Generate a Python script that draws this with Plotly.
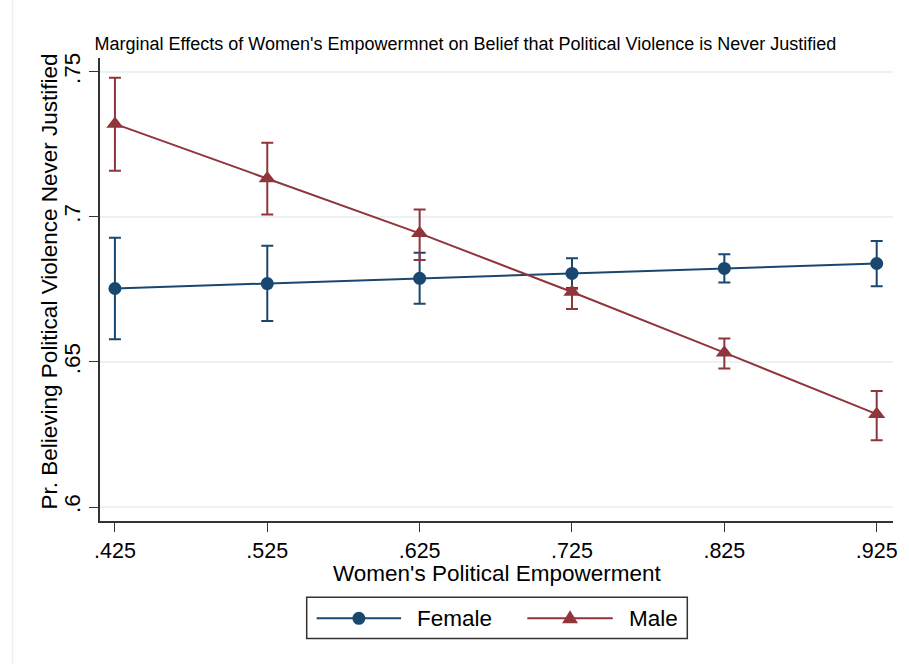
import plotly.graph_objects as go

# Women's political empowerment levels at which margins were evaluated
empowerment = [0.425, 0.525, 0.625, 0.725, 0.825, 0.925]
tick_labels = [".425", ".525", ".625", ".725", ".825", ".925"]

# Predicted probability (and 95% CI) that political violence is never justified
female_est = [0.6753, 0.6770, 0.6788, 0.6805, 0.6822, 0.6839]
female_lo = [0.6578, 0.6641, 0.6700, 0.6755, 0.6774, 0.6761]
female_hi = [0.6928, 0.6900, 0.6876, 0.6857, 0.6871, 0.6917]

male_est = [0.7320, 0.7132, 0.6943, 0.6741, 0.6532, 0.6320]
male_lo = [0.7159, 0.7008, 0.6851, 0.6682, 0.6477, 0.6230]
male_hi = [0.7479, 0.7255, 0.7025, 0.6752, 0.6581, 0.6400]

y_ticks = [0.6, 0.65, 0.7, 0.75]
y_tick_labels = [".6", ".65", ".7", ".75"]

NAVY = "#1a476f"
MAROON = "#90353b"
FONT = "Liberation Sans, Arial, sans-serif"
BIG = 22.5
TICK = 21.5

W, H = 909, 664
ML, MR, MT, MB = 100, 11, 58, 143.3
PW, PH = W - ML - MR, H - MT - MB


def px(x):
    """Horizontal pixel position -> paper fraction."""
    return (x - ML) / PW


def py(y):
    """Vertical pixel position (from top) -> paper fraction."""
    return (H - MB - y) / PH


def ci_trace(name, est, lo, hi, color, symbol, size):
    return go.Scatter(
        x=empowerment,
        y=est,
        name=name,
        mode="lines+markers",
        line=dict(color=color, width=2),
        marker=dict(color=color, symbol=symbol, size=size),
        error_y=dict(
            type="data",
            symmetric=False,
            array=[h - e for h, e in zip(hi, est)],
            arrayminus=[e - l for e, l in zip(est, lo)],
            color=color,
            thickness=2,
            width=6,
        ),
    )


fig = go.Figure()
fig.add_trace(ci_trace("Female", female_est, female_lo, female_hi, NAVY, "circle", 13))
fig.add_trace(ci_trace("Male", male_est, male_lo, male_hi, MAROON, "triangle-up", 15))

fig.update_layout(
    width=W,
    height=H,
    margin=dict(l=ML, r=MR, t=MT, b=MB),
    paper_bgcolor="white",
    plot_bgcolor="white",
    font=dict(family=FONT, color="black"),
    title=dict(
        text="Marginal Effects of Women's Empowermnet on Belief that Political Violence is Never Justified",
        x=0.512,
        xanchor="center",
        y=1 - 44 / H,
        yanchor="middle",
        font=dict(size=18, family=FONT),
    ),
    showlegend=False,
)

fig.update_xaxes(
    range=[0.4152, 0.9357],
    tickvals=empowerment,
    ticktext=tick_labels,
    ticks="outside",
    ticklen=9,
    tickwidth=1,
    tickcolor="#333333",
    showline=True,
    linecolor="#333333",
    linewidth=1.5,
    showgrid=False,
    zeroline=False,
    tickfont=dict(size=TICK, family=FONT),
)

fig.update_yaxes(
    range=[0.5952, 0.7547],
    tickvals=y_ticks,
    ticktext=y_tick_labels,
    tickangle=-90,
    ticks="outside",
    ticklen=9,
    tickwidth=1,
    tickcolor="#333333",
    showline=True,
    linecolor="#333333",
    linewidth=1.5,
    showgrid=True,
    gridcolor="#eaf2f3",
    gridwidth=1.5,
    zeroline=False,
    tickfont=dict(size=BIG, family=FONT),
)

# Axis titles
fig.add_annotation(text="Pr. Believing Political Violence Never Justified",
                   xref="paper", yref="paper", x=px(49), y=py(281),
                   textangle=-90, showarrow=False, xanchor="center", yanchor="middle",
                   font=dict(size=BIG, family=FONT))
fig.add_annotation(text="Women's Political Empowerment",
                   xref="paper", yref="paper", x=px(499), y=py(573),
                   showarrow=False, xanchor="center", yanchor="middle",
                   font=dict(size=BIG, family=FONT))

# Faint outer border of the graph region
fig.add_shape(type="line", xref="paper", yref="paper",
              x0=px(12), x1=px(12), y0=py(H), y1=py(0),
              line=dict(color="#eaf2f3", width=1.5))

# Legend box
fig.add_shape(type="rect", xref="paper", yref="paper",
              x0=px(308), x1=px(691), y0=py(638), y1=py(597),
              line=dict(color="#333333", width=1.5), fillcolor="white")

legend_y = 618
# Female key: line with circle
fig.add_shape(type="line", xref="paper", yref="paper",
              x0=px(318), x1=px(403), y0=py(legend_y), y1=py(legend_y),
              line=dict(color=NAVY, width=2))
fig.add_shape(type="circle", xref="paper", yref="paper",
              x0=px(360.5 - 6.5), x1=px(360.5 + 6.5), y0=py(legend_y + 6.5), y1=py(legend_y - 6.5),
              line=dict(color=NAVY, width=0), fillcolor=NAVY)
fig.add_annotation(text="Female", xref="paper", yref="paper", x=px(417), y=py(legend_y),
                   showarrow=False, xanchor="left", yanchor="middle",
                   font=dict(size=BIG, family=FONT))
# Male key: line with triangle
fig.add_shape(type="line", xref="paper", yref="paper",
              x0=px(530), x1=px(616), y0=py(legend_y), y1=py(legend_y),
              line=dict(color=MAROON, width=2))
tri = "M {:.5f},{:.5f} L {:.5f},{:.5f} L {:.5f},{:.5f} Z".format(
    px(573 - 8), py(legend_y + 5), px(573 + 8), py(legend_y + 5), px(573), py(legend_y - 8))
fig.add_shape(type="path", xref="paper", yref="paper", path=tri,
              line=dict(color=MAROON, width=0), fillcolor=MAROON)
fig.add_annotation(text="Male", xref="paper", yref="paper", x=px(630), y=py(legend_y),
                   showarrow=False, xanchor="left", yanchor="middle",
                   font=dict(size=BIG, family=FONT))

fig.write_html("out.html")
